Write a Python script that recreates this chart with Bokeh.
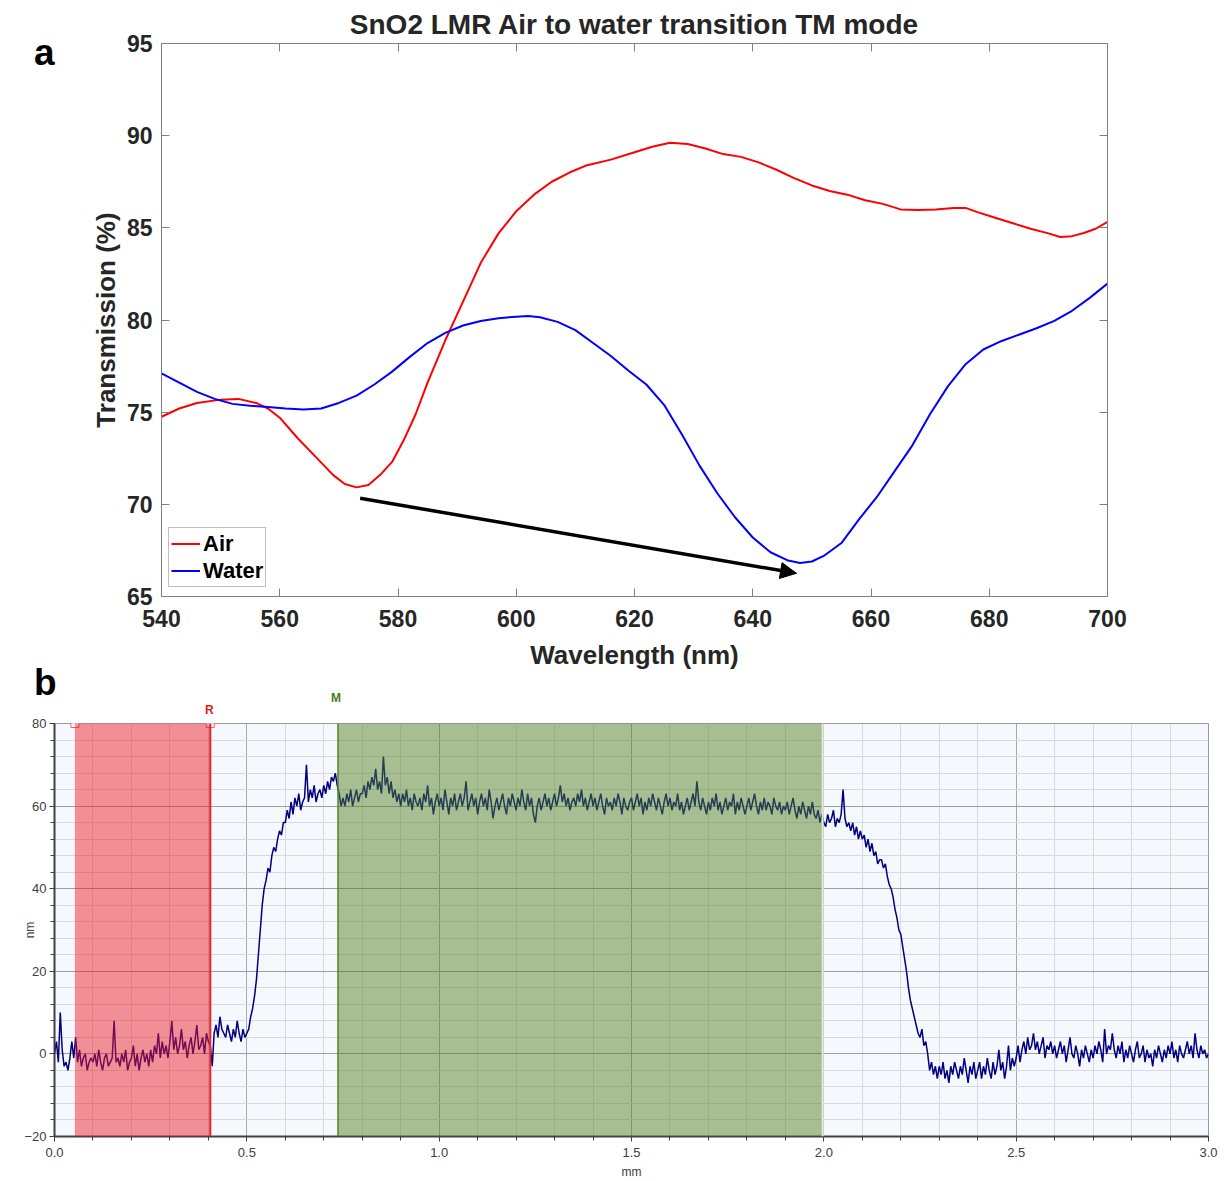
from bokeh.plotting import figure
from bokeh.models import (Range1d, LinearAxis, FixedTicker, SingleIntervalTicker, Arrow, Div,
                          NormalHead, BoxAnnotation, Span, Legend, LegendItem, NumeralTickFormatter)
from bokeh.embed import file_html
from bokeh.resources import INLINE

# ---------------- Panel a data ----------------
wl_air = [540, 543, 546, 550, 553, 556, 558, 560, 563, 566, 569, 571, 573, 575, 577, 579, 581, 583,
          585, 588, 591, 594, 597, 600, 603, 606, 609, 612, 616, 620, 623, 626, 629, 632, 635, 638,
          641, 644, 647, 650, 653, 656, 659, 662, 665, 668, 671, 674, 676, 678, 681, 684, 687, 690,
          692, 694, 696, 698, 700]
air = [74.75, 75.2, 75.5, 75.68, 75.72, 75.5, 75.2, 74.7, 73.6, 72.6, 71.6, 71.1, 70.92, 71.05, 71.6,
       72.3, 73.5, 74.9, 76.6, 78.9, 81.0, 83.1, 84.7, 85.9, 86.8, 87.5, 88.0, 88.4, 88.7, 89.1, 89.4,
       89.62, 89.55, 89.3, 89.0, 88.85, 88.55, 88.15, 87.7, 87.3, 87.0, 86.8, 86.5, 86.3, 86.0, 85.97,
       86.0, 86.08, 86.08, 85.85, 85.55, 85.25, 84.95, 84.7, 84.5, 84.55, 84.72, 84.95, 85.32]

wl_water = [540, 543, 546, 549, 552, 555, 558, 561, 564, 567, 570, 573, 576, 579, 582, 585, 588, 591,
            594, 597, 600, 602, 604, 607, 610, 613, 616, 619, 622, 625, 628, 631, 634, 637, 640, 643,
            646, 648, 650, 652, 655, 658, 661, 664, 667, 670, 673, 676, 679, 682, 685, 688, 691, 694,
            697, 700]
water = [77.1, 76.6, 76.1, 75.72, 75.45, 75.35, 75.28, 75.2, 75.14, 75.2, 75.5, 75.9, 76.5, 77.2, 78.0,
         78.75, 79.3, 79.7, 79.95, 80.1, 80.18, 80.22, 80.15, 79.9, 79.45, 78.75, 78.05, 77.25, 76.5,
         75.4, 73.8, 72.1, 70.6, 69.3, 68.2, 67.4, 66.95, 66.82, 66.9, 67.2, 67.9, 69.2, 70.4, 71.8,
         73.2, 74.9, 76.4, 77.6, 78.4, 78.85, 79.2, 79.55, 79.95, 80.5, 81.2, 81.98]

x_ticks_a = [540, 560, 580, 600, 620, 640, 660, 680, 700]
y_ticks_a = [65, 70, 75, 80, 85, 90, 95]
arrow_from = (573.6, 70.33)
arrow_to = (647.4, 66.26)
title_a = "SnO2 LMR Air to water transition TM mode"

# ---------------- Panel b data ----------------
step_mm = 0.005
profile_nm = [
    0, 3, -2, 10, 1, -3, -2, -4, -1, 3,
    -1, 4, -2, 1, -3, -1, 0, -4, -2, -1,
    -2, 0, -3, 1, -2, -4, -1, 0, -3, -2,
    -1, 8, -2, -1, -3, 0, -2, 1, -4, -2,
    -1, 2, -3, 0, -4, -1, 1, -2, 0, -3,
    1, -2, 2, 0, 5, -1, 3, 0, 2, -1,
    3, 8, 1, 4, 0, 2, 6, 1, 3, -1,
    2, 4, 0, 3, 7, 1, 2, 4, 0, 5,
    3, 2, -3, 5, 7, 4, 9, 6, 5, 4,
    7, 5, 3, 6, 4, 8, 5, 3, 6, 4,
    5, 6, 9, 11, 14, 18, 24, 30, 36, 40,
    42, 45, 44, 48, 50, 49, 52, 54, 53, 56,
    56, 59, 57, 61, 58, 62, 60, 63, 59, 61,
    62, 70, 61, 64, 62, 65, 61, 63, 64, 62,
    65, 63, 66, 64, 67, 66, 68, 65, 63, 60,
    62, 60, 63, 61, 64, 60, 62, 64, 61, 63,
    63, 65, 62, 66, 64, 67, 65, 69, 64, 66,
    63, 72, 65, 67, 63, 66, 62, 64, 61, 63,
    60, 63, 61, 64, 60, 62, 59, 63, 61, 60,
    62, 59, 63, 61, 65, 60, 62, 58, 61, 63,
    60, 62, 59, 64, 61, 58, 62, 60, 63, 59,
    61, 63, 60, 62, 66, 59, 61, 63, 60, 62,
    58, 61, 63, 60, 62, 59, 64, 61, 57, 60,
    62, 59, 61, 63, 60, 58, 62, 60, 63, 61,
    59, 62, 60, 64, 61, 59, 63, 60, 62, 58,
    56, 60, 62, 59, 61, 63, 60, 62, 59, 61,
    63, 60, 62, 65, 61, 63, 60, 62, 59, 61,
    62, 60, 63, 61, 64, 60, 62, 59, 61, 63,
    60, 62, 59, 61, 63, 60, 58, 62, 60, 61,
    59, 62, 60, 63, 61, 58, 62, 60, 59, 61,
    62, 59, 61, 63, 60, 62, 58, 61, 59, 62,
    60, 63, 61, 59, 62, 60, 58, 61, 63, 60,
    62, 59, 61, 60, 63, 59, 61, 58, 60, 62,
    59, 61, 63, 60, 66, 61, 59, 62, 60, 58,
    61, 59, 62, 60, 63, 59, 61, 58, 60, 62,
    59, 61, 60, 63, 58, 61, 59, 62, 60, 58,
    60, 62, 59, 61, 63, 60, 58, 61, 59, 62,
    59, 61, 60, 58, 62, 60, 59, 61, 58, 60,
    59, 61, 58, 60, 62, 59, 57, 60, 58, 61,
    59, 57, 60, 58, 61, 58, 57, 59, 56, 58,
    56, 55, 58, 56, 57, 59, 55, 57, 56, 58,
    64, 57, 55, 56, 54, 56, 53, 55, 52, 54,
    52, 53, 50, 52, 49, 51, 48, 49, 46, 47,
    47, 45, 46, 43, 41, 40, 38, 35, 33, 30,
    29, 26, 23, 20, 16, 13, 11, 9, 7, 5,
    4, 6, 2, 3, 0, -4, -2, -5, -3, -6,
    -3, -5, -2, -6, -4, -7, -3, -5, -2, -4,
    -6, -3, -5, -1, -4, -7, -3, -5, -2, -6,
    -4, -2, -6, -3, -5, -1, -4, -6, -2, -5,
    -3, 1, -4, -2, -6, -3, 2, -4, -1, -3,
    -1, 2, -2, 1, 3, 0, 4, 1, 2, 5,
    1, 3, 0, 2, 4, -1, 2, 1, 3, 0,
    2, -1, 1, 3, 0, 2, -2, 1, 4, 0,
    -1, 2, 0, -3, 1, -1, 2, 0, -2, 1,
    -1, 2, 0, 3, 1, -2, 6, 0, 2, 1,
    5, 1, -1, 2, 0, 3, -2, 1, -1, 2,
    0, -2, 1, 3, -1, 0, 2, -2, 1, -1,
    0, -3, 1, -1, 2, 0, -2, 1, -1, 2,
    0, 3, -1, 1, -2, 2, 0, -1, 1, 3,
    0, 2, -1, 5, 1, -1, 2, 0, 1, -1,
    0,
]
profile_mm = [round(i * step_mm, 4) for i in range(len(profile_nm))]
ref_band = (0.053, 0.405)
meas_band = (0.737, 1.997)

FONT = "Liberation Sans"
DARK = "#262626"
GRAY = "#808080"

# ================= Panel a =================
pa = figure(width=1227, height=672, output_backend="svg", toolbar_location=None,
            x_range=Range1d(540, 700), y_range=Range1d(65, 95),
            min_border_left=161, min_border_right=120, min_border_top=43, min_border_bottom=76)
pa.grid.visible = False
pa.outline_line_color = GRAY
pa.title.text = title_a
pa.title.align = "center"
pa.title.text_font = FONT
pa.title.text_font_style = "bold"
pa.title.text_font_size = "28px"
pa.title.text_color = DARK
pa.title.standoff = 7
pa.xaxis.ticker = FixedTicker(ticks=x_ticks_a)
pa.yaxis.ticker = FixedTicker(ticks=y_ticks_a)
pa.xaxis.axis_label = "Wavelength (nm)"
pa.yaxis.axis_label = "Transmission (%)"
for ax in pa.axis:
    ax.major_tick_in = 8
    ax.major_tick_out = 0
    ax.minor_tick_in = 0
    ax.minor_tick_out = 0
    ax.axis_line_color = GRAY
    ax.major_tick_line_color = GRAY
    ax.major_label_text_font = FONT
    ax.major_label_text_font_style = "bold"
    ax.major_label_text_font_size = "23px"
    ax.major_label_text_color = DARK
    ax.axis_label_text_font = FONT
    ax.axis_label_text_font_style = "bold"
    ax.axis_label_text_font_size = "26px"
    ax.axis_label_text_color = DARK
pa.xaxis.major_label_standoff = 13
pa.yaxis.major_label_standoff = 9
pa.xaxis.axis_label_standoff = 10
pa.yaxis.axis_label_standoff = 3

top_ax = LinearAxis(ticker=FixedTicker(ticks=x_ticks_a), major_label_text_color=None,
                    major_label_text_font_size="1px",
                    major_tick_in=8, major_tick_out=0, minor_tick_in=0, minor_tick_out=0,
                    axis_line_color=GRAY, major_tick_line_color=GRAY, major_label_standoff=0)
right_ax = LinearAxis(ticker=FixedTicker(ticks=y_ticks_a), major_label_text_color=None,
                      major_label_text_font_size="1px",
                      major_tick_in=8, major_tick_out=0, minor_tick_in=0, minor_tick_out=0,
                      axis_line_color=GRAY, major_tick_line_color=GRAY, major_label_standoff=0)
pa.add_layout(top_ax, "above")
pa.add_layout(right_ax, "right")

r_air = pa.line(wl_air, air, line_color="#ff0000", line_width=2)
r_water = pa.line(wl_water, water, line_color="#0000ff", line_width=2)

pa.add_layout(Arrow(end=NormalHead(size=16, fill_color="black", line_color="black"),
                    x_start=arrow_from[0], y_start=arrow_from[1],
                    x_end=arrow_to[0], y_end=arrow_to[1],
                    line_color="black", line_width=3.5))

legend = Legend(items=[LegendItem(label="Air", renderers=[r_air]),
                       LegendItem(label="Water", renderers=[r_water])],
                location=(7, 9), padding=2, spacing=0, margin=0,
                label_height=27, glyph_height=27, glyph_width=29, label_standoff=3,
                label_text_font=FONT, label_text_font_style="bold", label_text_font_size="22px",
                label_text_color="black", border_line_color=GRAY, border_line_width=1,
                background_fill_color="white", background_fill_alpha=1)
pa.add_layout(legend)

# ================= Panel b =================
pb = figure(width=1227, height=509, output_backend="svg", toolbar_location=None,
            x_range=Range1d(0, 3), y_range=Range1d(-20, 80),
            min_border_left=54, min_border_right=19, min_border_top=51, min_border_bottom=45,
            background_fill_color="#f5f8fc")
pb.outline_line_color = "#9a9a9a"
pb.xaxis.ticker = SingleIntervalTicker(interval=0.5, num_minor_ticks=5)
pb.yaxis.ticker = SingleIntervalTicker(interval=20, num_minor_ticks=5)
pb.xaxis.formatter = NumeralTickFormatter(format="0.0")
pb.xaxis.axis_label = "mm"
pb.yaxis.axis_label = "nm"
for ax in pb.axis:
    ax.major_tick_out = 5
    ax.major_tick_in = 0
    ax.minor_tick_out = 4
    ax.minor_tick_in = 0
    ax.axis_line_color = "#404040"
    ax.axis_line_width = 2
    ax.major_tick_line_color = "#404040"
    ax.minor_tick_line_color = "#404040"
    ax.major_label_text_font = FONT
    ax.major_label_text_font_size = "13px"
    ax.major_label_text_color = "#404040"
    ax.axis_label_text_font = FONT
    ax.axis_label_text_font_style = "normal"
    ax.axis_label_text_font_size = "12px"
    ax.axis_label_text_color = "#404040"
pb.xaxis.major_label_standoff = 6
pb.yaxis.major_label_standoff = 3
pb.xaxis.axis_label_standoff = 5
pb.yaxis.axis_label_standoff = -16

pb.xgrid.grid_line_color = "#a8a8a8"
pb.ygrid.grid_line_color = "#9e9e9e"
pb.xgrid.minor_grid_line_color = "#d6dade"
pb.ygrid.minor_grid_line_color = "#d6dade"

pb.line(profile_mm, profile_nm, line_color="#000080", line_width=1.5)

pb.add_layout(BoxAnnotation(left=ref_band[0], right=ref_band[1], fill_color="#ee1c25",
                            fill_alpha=0.48, line_color=None))
pb.add_layout(BoxAnnotation(left=meas_band[0], right=meas_band[1], fill_color="#4f7f1f",
                            fill_alpha=0.48, line_color=None))
pb.add_layout(Span(location=ref_band[1], dimension="height", line_color="#e8262c", line_width=2))
pb.add_layout(Span(location=meas_band[0], dimension="height", line_color="#5b7d2e", line_width=1.5))
pb.add_layout(Span(location=meas_band[1], dimension="height", line_color="#e4e9de", line_width=2))

pb.scatter(list(ref_band), [80, 80], marker="square", size=8, fill_color="white",
           line_color="#e06868", line_width=1)


def abs_text(text, left, top, size, color, weight="bold"):
    style = (f"font-family:'{FONT}';font-size:{size}px;font-weight:{weight};"
             f"color:{color};line-height:1;white-space:nowrap;")
    return Div(text=f'<span style="{style}">{text}</span>', margin=0,
               styles={"position": "absolute", "left": f"{left}px", "top": f"{top}px",
                       "line-height": "1", "font-size": f"{size}px"})


div_a = abs_text("a", 34, 34, 37, "black")
div_b = abs_text("b", 34, 664, 37, "black")
div_r = abs_text("R", 205, 704, 12, "#e02020")
div_m = abs_text("M", 331, 692, 12, "#4a7a1e")

html = file_html([pa, pb, div_a, div_b, div_r, div_m], INLINE)
open("out.html", "w").write(html)
